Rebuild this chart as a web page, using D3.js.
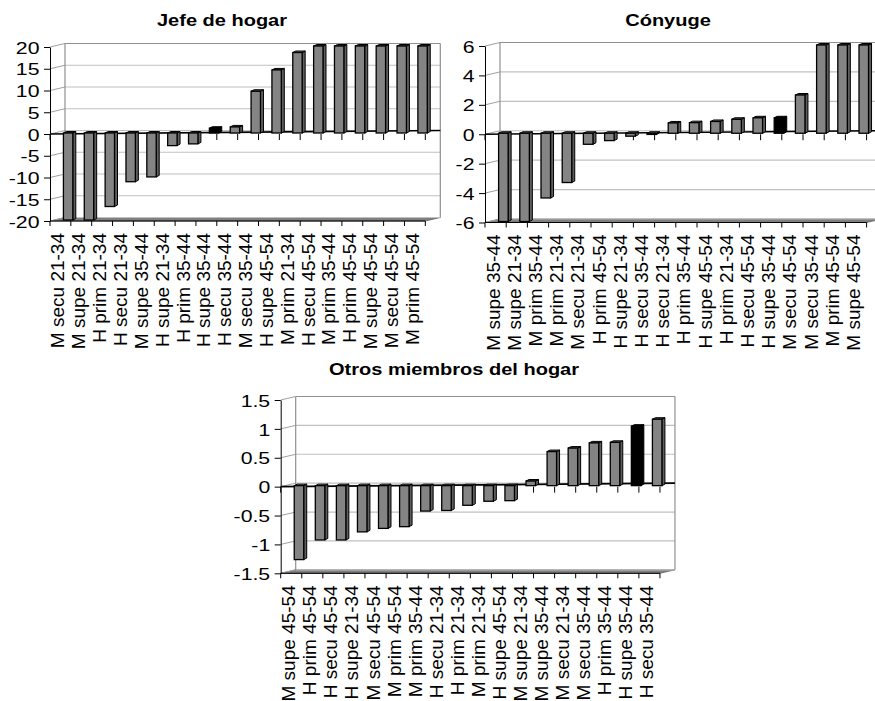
<!DOCTYPE html>
<html>
<head>
<meta charset="utf-8">
<script src="https://cdn.jsdelivr.net/npm/d3@7"></script>
<style>
  body { margin: 0; background: #fff; }
  text { font-family: "Liberation Sans", Arial, sans-serif; }
</style>
</head>
<body>
<div id="vis"></div>
<script>
// data
const jefeCats = ['M secu 21-34', 'M supe 21-34', 'H prim 21-34', 'H secu 21-34', 'M supe 35-44', 'H supe 21-34',
  'H prim 35-44', 'H supe 35-44', 'H secu 35-44', 'M secu 35-44', 'H supe 45-54', 'M prim 21-34',
  'H secu 45-54', 'M prim 35-44', 'H prim 45-54', 'M supe 45-54', 'M secu 45-54', 'M prim 45-54']
const jefeVals = [-20, -20, -16.9, -11.2, -10.1, -2.9, -2.5, 1.1, 1.4, 9.6, 14.5, 18.5, 20, 20, 20, 20, 20, 20]
const jefeTicks = [20, 15, 10, 5, 0, -5, -10, -15, -20]

const conyCats = ['M supe 35-44', 'M supe 21-34', 'M prim 35-44', 'M prim 21-34', 'M secu 21-34', 'H prim 45-54',
  'H supe 21-34', 'H secu 35-44', 'H secu 21-34', 'H prim 35-44', 'H supe 45-54', 'H prim 21-34',
  'H secu 45-54', 'H supe 35-44', 'M secu 45-54', 'M secu 35-44', 'M prim 45-54', 'M supe 45-54']
const conyVals = [-6, -6, -4.4, -3.35, -0.75, -0.5, -0.2, -0.08, 0.7, 0.72, 0.8, 0.95, 1.05, 1.05, 2.6, 6, 6, 6]
const conyTicks = [6, 4, 2, 0, -2, -4, -6]

const otrosCats = ['M supe 45-54', 'H prim 45-54', 'H secu 45-54', 'H supe 21-34', 'M secu 45-54', 'M prim 45-54',
  'M prim 35-44', 'H secu 21-34', 'H prim 21-34', 'M prim 21-34', 'H supe 45-54', 'M supe 21-34',
  'M supe 35-44', 'M secu 21-34', 'M secu 35-44', 'H prim 35-44', 'H supe 35-44', 'H secu 35-44']
const otrosVals = [-1.28, -0.94, -0.94, -0.8, -0.74, -0.71, -0.44, -0.43, -0.34, -0.27, -0.26, 0.08, 0.59, 0.65, 0.74, 0.75, 1.03, 1.15]
const otrosTicks = [1.5, 1, 0.5, 0, -0.5, -1, -1.5]

const highlight = 'H supe 35-44'

const width = 875, height = 701
const depth = { dx: 15, dy: -3.5 }   // 3D wall offset
const barDepth = { dx: 3, dy: -1.5 } // 3D bar offset

const svg = d3.select('#vis')
  .append('svg')
  .attr('width', width)
  .attr('height', height)

const panels = [
  { title: 'Jefe de hogar', cats: jefeCats, vals: jefeVals, ticks: jefeTicks,
    left: 50, top: 47, bottom: 221, bw: 20.85, tx: 222, ty: 26 },
  { title: 'Cónyuge', cats: conyCats, vals: conyVals, ticks: conyTicks,
    left: 485, top: 46, bottom: 222.5, bw: 21.2, tx: 668, ty: 26 },
  { title: 'Otros miembros del hogar', cats: otrosCats, vals: otrosVals, ticks: otrosTicks,
    left: 280.7, top: 400, bottom: 573.3, bw: 21.07, tx: 454, ty: 375 }
]

function pts(arr) {
  return arr.map(p => p.join(',')).join(' ')
}

function drawPanel(p) {
  const g = svg.append('g')
  const W = p.cats.length * p.bw
  const xScale = d3.scaleBand()
    .domain(p.cats)
    .range([p.left, p.left + W])
    .padding(0)
  const yScale = d3.scaleLinear()
    .domain([d3.min(p.ticks), d3.max(p.ticks)])
    .range([p.bottom, p.top])

  const wallL = p.left + depth.dx
  const wallR = p.left + W + depth.dx

  // floor
  g.append('polygon')
    .attr('points', pts([[p.left, p.bottom], [p.left + W, p.bottom],
      [wallR, p.bottom + depth.dy], [wallL, p.bottom + depth.dy]]))
    .attr('fill', '#808080')
    .attr('stroke', '#606060')
    .attr('stroke-width', 0.8)

  // back wall + side wall grid lines
  p.ticks.forEach(t => {
    const y = yScale(t)
    g.append('line')
      .attr('x1', wallL).attr('x2', wallR)
      .attr('y1', y + depth.dy).attr('y2', y + depth.dy)
      .attr('stroke', t === d3.max(p.ticks) ? '#909090' : '#c0c0c0')
      .attr('stroke-width', 1.2)
    g.append('line')
      .attr('x1', p.left).attr('x2', wallL)
      .attr('y1', y).attr('y2', y + depth.dy)
      .attr('stroke', '#a0a0a0')
      .attr('stroke-width', 1)
  })
  g.append('line')
    .attr('x1', wallL).attr('x2', wallL)
    .attr('y1', p.top + depth.dy).attr('y2', p.bottom + depth.dy)
    .attr('stroke', '#909090').attr('stroke-width', 1.2)
  g.append('line')
    .attr('x1', wallR).attr('x2', wallR)
    .attr('y1', p.top + depth.dy).attr('y2', p.bottom + depth.dy)
    .attr('stroke', '#909090').attr('stroke-width', 1.2)

  // zero line and its ticks
  const y0 = yScale(0)
  const bounds = p.cats.map(c => xScale(c)).concat([p.left + W])
  g.selectAll('.zeroTick')
    .data(bounds)
    .join('line')
    .attr('x1', d => d).attr('x2', d => d)
    .attr('y1', y0).attr('y2', y0 + 6)
    .attr('stroke', '#000').attr('stroke-width', 1)
  g.append('line')
    .attr('x1', p.left).attr('x2', wallR)
    .attr('y1', y0).attr('y2', y0 + depth.dy)
    .attr('stroke', '#000').attr('stroke-width', 1.6)

  // bars
  const fw = p.bw * 0.45
  p.cats.forEach((c, i) => {
    const v = p.vals[i]
    const cx = xScale(c) + p.bw / 2
    const x1 = cx + 3
    const x2 = x1 + fw
    const yA = Math.min(yScale(v), y0) - 1
    const yB = Math.max(yScale(v), y0) - 1
    const dark = c === highlight
    const bar = g.append('g')
    bar.append('polygon')
      .attr('points', pts([[x2, yA], [x2 + barDepth.dx, yA + barDepth.dy],
        [x2 + barDepth.dx, yB + barDepth.dy], [x2, yB]]))
      .attr('fill', dark ? '#000' : '#5e5e5e')
      .attr('stroke', '#000').attr('stroke-width', 1)
    bar.append('polygon')
      .attr('points', pts([[x1, yA], [x2, yA], [x2 + barDepth.dx, yA + barDepth.dy],
        [x1 + barDepth.dx, yA + barDepth.dy]]))
      .attr('fill', dark ? '#000' : '#6a6a6a')
      .attr('stroke', '#000').attr('stroke-width', 1)
    bar.append('rect')
      .attr('x', x1).attr('y', yA)
      .attr('width', fw).attr('height', yB - yA)
      .attr('fill', dark ? '#000' : '#848484')
      .attr('stroke', '#000').attr('stroke-width', 1.3)
  })

  // y axis
  const yAxis = d3.axisLeft(yScale)
    .tickValues(p.ticks)
    .tickFormat(d => String(d))
    .tickSize(6)
    .tickSizeOuter(0)
  const ya = g.append('g')
    .attr('transform', `translate(${p.left},0)`)
    .call(yAxis)
  ya.select('.domain').attr('stroke', '#000')
  ya.selectAll('.tick line').attr('stroke', '#000')
  ya.selectAll('.tick text')
    .attr('x', 0)
    .attr('dy', '0.36em')
    .attr('transform', 'translate(-10.5,0) scale(1.25,1)')
    .style('font-size', '17px')
    .style('font-family', '"Liberation Sans", Arial, sans-serif')
    .attr('fill', '#000')

  // category axis at the bottom
  g.append('line')
    .attr('x1', p.left).attr('x2', p.left + W)
    .attr('y1', p.bottom).attr('y2', p.bottom)
    .attr('stroke', '#000').attr('stroke-width', 1)
  g.selectAll('.botTick')
    .data(bounds)
    .join('line')
    .attr('x1', d => d).attr('x2', d => d)
    .attr('y1', p.bottom).attr('y2', p.bottom + 5)
    .attr('stroke', '#000').attr('stroke-width', 1)
  g.selectAll('.catLabel')
    .data(p.cats)
    .join('text')
    .attr('transform', d => `translate(${xScale(d) + p.bw / 2 + 4},${p.bottom + 12}) rotate(-90)`)
    .attr('text-anchor', 'end')
    .style('font-size', '19px')
    .attr('fill', '#000')
    .text(d => d)

  // title
  g.append('text')
    .attr('transform', `translate(${p.tx},${p.ty}) scale(1.25,1)`)
    .attr('text-anchor', 'middle')
    .style('font-size', '16px')
    .style('font-weight', 'bold')
    .attr('fill', '#000')
    .text(p.title)
}

panels.forEach(drawPanel)
</script>
</body>
</html>
